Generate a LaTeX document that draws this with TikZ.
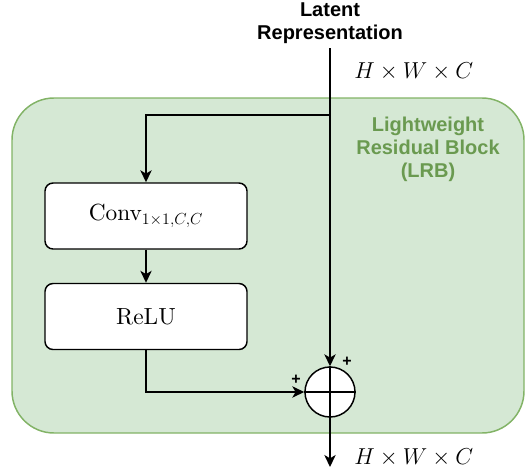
\documentclass[tikz,border=0pt]{standalone}
\usepackage{fontspec}
\setmainfont{lmroman10-regular.otf}
\usetikzlibrary{arrows.meta}
\newfontfamily\headfont{Liberation Sans}
\definecolor{lrbfill}{HTML}{D5E8D4}
\definecolor{lrbdraw}{HTML}{82B366}
\definecolor{lrbtext}{HTML}{6A9A50}
\tikzset{
  px/.style={x=0.75pt,y=-0.75pt},
  flow/.style={line width=1.1pt,-{Stealth[length=9pt,width=8.5pt,inset=2.5pt]}},
  plain/.style={line width=1.1pt},
  opbox/.style={draw,line width=1.1pt,fill=white,rounded corners=6pt,
    minimum width=151.5pt,minimum height=49.5pt,inner sep=0pt,
    font=\fontsize{17.5}{20}\selectfont},
  sumnode/.style={draw,circle,line width=1.1pt,fill=white,minimum size=37.5pt,inner sep=0pt},
  dimlabel/.style={anchor=west,inner sep=0pt,font=\fontsize{17.28}{20}\selectfont},
  headlabel/.style={align=center,inner sep=0pt,font=\headfont\bfseries\fontsize{15}{17.3}\selectfont},
  signlabel/.style={inner sep=0pt,font=\headfont\bfseries\fontsize{12}{12}\selectfont},
}
\newcommand{\dimtext}{$H\times W\times C$}
\begin{document}
\begin{tikzpicture}[px]
  \useasboundingbox (0,0) rectangle (525,475);
  % block background
  \draw[fill=lrbfill,draw=lrbdraw,line width=1.1pt,rounded corners=31.5pt]
    (12,98) rectangle (524,433);
  \node[headlabel,text=lrbtext] (lrb) at (428,149)
    {Lightweight\\Residual Block\\(LRB)};
  % input and output labels
  \node[headlabel] (input) at (330,23) {Latent\\Representation};
  \node[dimlabel] (dimin) at (354,72) {\dimtext};
  \node[dimlabel] (dimout) at (354,458) {\dimtext};
  % operations
  \node[opbox] (conv) at (146,216) {Conv$_{1\times 1,C,C}$};
  \node[opbox] (relu) at (146,316.5) {ReLU};
  \node[sumnode] (sum) at (330,392) {};
  \draw[plain] (sum.north) -- (sum.south);
  \draw[plain] (sum.west) -- (sum.east);
  \node[signlabel] (plustop) at (347,362) {+};
  \node[signlabel] (plusleft) at (296,380) {+};
  % connectors
  \coordinate (top) at (330,48);
  \coordinate (split) at (330,115);
  \coordinate (turn) at (146,115);
  \coordinate (out) at (330,467);
  \draw[flow] (top) -- (sum.north);
  \draw[flow] (split) -- (turn) -- (conv.north);
  \draw[flow] (conv.south) -- (relu.north);
  \draw[flow] (relu.south) |- (sum.west);
  \draw[flow] (sum.south) -- (out);
\end{tikzpicture}
\end{document}
